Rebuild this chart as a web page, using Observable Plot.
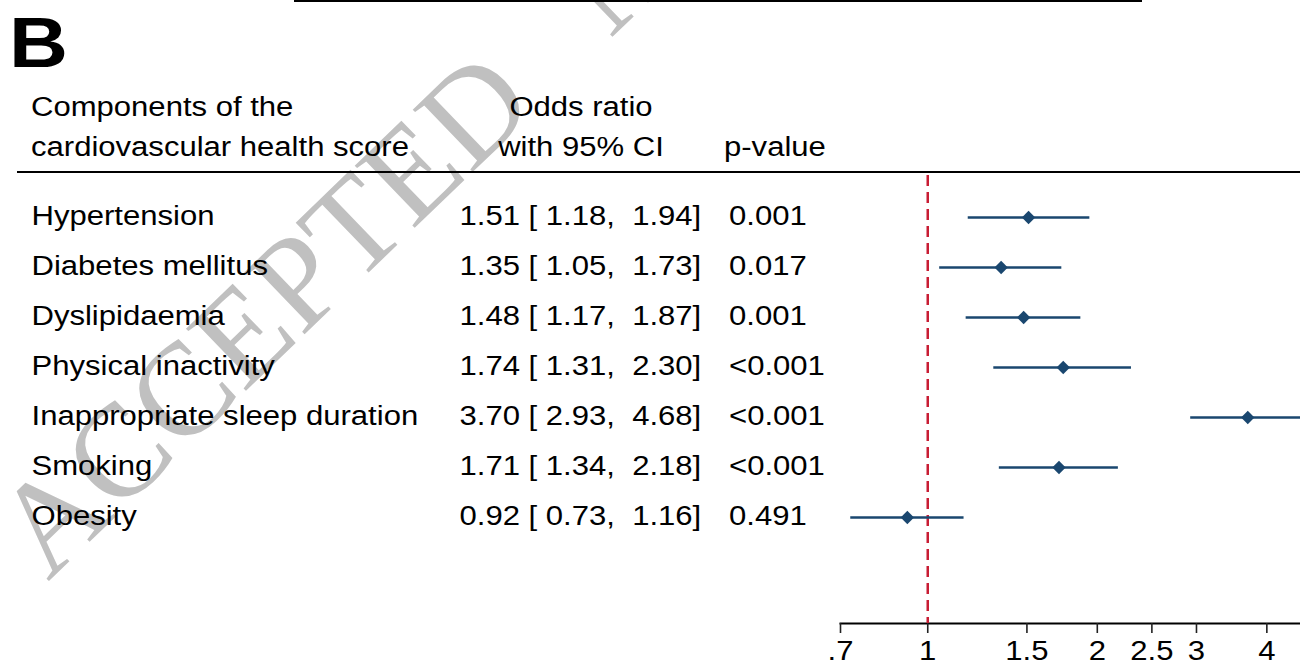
<!DOCTYPE html>
<html>
<head>
<meta charset="utf-8">
<script src="https://cdn.jsdelivr.net/npm/d3@7"></script>
<script src="https://cdn.jsdelivr.net/npm/@observablehq/plot@0.6"></script>
<style>
  html, body { margin: 0; padding: 0; background: #fff; overflow: hidden; }
  #wrap { position: relative; width: 1300px; height: 663px; font-family: "Liberation Sans", Arial, sans-serif; }
  #wrap > svg { position: absolute; left: 0; top: 0; }
  .rule { position: absolute; background: #000; }
  #wm text { white-space: pre; }
</style>
</head>
<body>
<div id="wrap">
  <svg id="wm" width="1300" height="663">
    <text transform="translate(48,582) rotate(-44)" font-family="'Liberation Serif', 'Times New Roman', serif" font-size="132" fill="#c0c0c0">ACCEPTED   MANUSCRIPT</text>
  </svg>
  <div class="rule" style="left:294px;top:0;width:848px;height:2px"></div>
  <div class="rule" style="left:17px;top:170.5px;width:1283px;height:2.2px"></div>
  <svg id="hdr" width="1300" height="663" font-family="'Liberation Sans', Arial, sans-serif" font-size="27" fill="#000"></svg>
</div>
<script>
// ---- data ----
const components = ["Hypertension", "Diabetes mellitus", "Dyslipidaemia", "Physical inactivity",
  "Inappropriate sleep duration", "Smoking", "Obesity"];
const oddsRatio = [1.51, 1.35, 1.48, 1.74, 3.70, 1.71, 0.92];
const ciLower   = [1.18, 1.05, 1.17, 1.31, 2.93, 1.34, 0.73];
const ciUpper   = [1.94, 1.73, 1.87, 2.30, 4.68, 2.18, 1.16];
const pValues   = ["0.001", "0.017", "0.001", "<0.001", "<0.001", "<0.001", "0.491"];
const xTicks      = [0.7, 1, 1.5, 2, 2.5, 3, 4];
const xTickLabels = [".7", "1", "1.5", "2", "2.5", "3", "4"];
const panelLabel = "B";
const headerComponents = ["Components of the", "cardiovascular health score"];
const headerOR = ["Odds ratio", "with 95% CI"];
const headerP = "p-value";

// ---- header (plain svg text) ----
const hdr = d3.select("#hdr");
hdr.append("text").attr("x", 9).attr("y", 67).attr("font-size", 71).attr("font-weight", "bold").text(panelLabel);
headerComponents.forEach((t, i) => hdr.append("text").attr("x", 31).attr("y", 116 + 40 * i).text(t));
headerOR.forEach((t, i) => hdr.append("text").attr("x", 581).attr("y", 116 + 40 * i).attr("text-anchor", "middle").text(t));
hdr.append("text").attr("x", 724).attr("y", 156).text(headerP);

// ---- table rows ----
const rows = components.map((c, i) => ({
  name: c, or: oddsRatio[i], lo: ciLower[i], hi: ciUpper[i], p: pValues[i],
  orText: `${oddsRatio[i].toFixed(2)} [ ${ciLower[i].toFixed(2)},  ${ciUpper[i].toFixed(2)}]`
}));

const navy = "#1a476f";
const chart = Plot.plot({
  width: 1300, height: 663,
  marginLeft: 840, marginRight: 0, marginTop: 175, marginBottom: 40,
  style: { background: "transparent", fontFamily: "'Liberation Sans', Arial, sans-serif", fontSize: "27px", color: "#000", overflow: "visible" },
  x: { type: "log", domain: [0.7, 4.59], label: null },
  y: { type: "point", domain: components, padding: 0, insetTop: 39.3, insetBottom: 103, axis: null, label: null },
  marks: [
    Plot.frame({ anchor: "bottom", stroke: "#000", strokeWidth: 2 }),
    Plot.axisX({ ticks: xTicks, tickFormat: d => xTickLabels[xTicks.indexOf(d)], tickSize: 10, tickPadding: 7,
      stroke: "#222", strokeWidth: 1.6, fill: "#000", label: null }),
    Plot.ruleX([1], { stroke: "#c81d34", strokeWidth: 2.5, strokeDasharray: "11,6" }),
    Plot.ruleY(rows, { y: "name", x1: "lo", x2: "hi", stroke: navy, strokeWidth: 2.6 }),
    Plot.dot(rows, { x: "or", y: "name", symbol: "diamond2", r: 6, fill: navy, stroke: "none" }),
    Plot.text(rows, { y: "name", text: "name", frameAnchor: "left", textAnchor: "start", dx: -809, dy: -1, fill: "#000" }),
    Plot.text(rows, { y: "name", text: "orText", frameAnchor: "left", textAnchor: "start", dx: -381, dy: -1, fill: "#000" }),
    Plot.text(rows, { y: "name", text: "p", frameAnchor: "left", textAnchor: "start", dx: -111.5, dy: -1, fill: "#000" })
  ]
});
document.getElementById("wrap").appendChild(chart);

// horizontal stretch of the text, as in the reference
document.querySelectorAll("#hdr text, #wrap > svg:last-child text").forEach(t => {
  const L = t.getComputedTextLength();
  if (L > 0) {
    t.setAttribute("textLength", (L * 1.15).toFixed(2));
    t.setAttribute("lengthAdjust", "spacingAndGlyphs");
  }
});
</script>
</body>
</html>
